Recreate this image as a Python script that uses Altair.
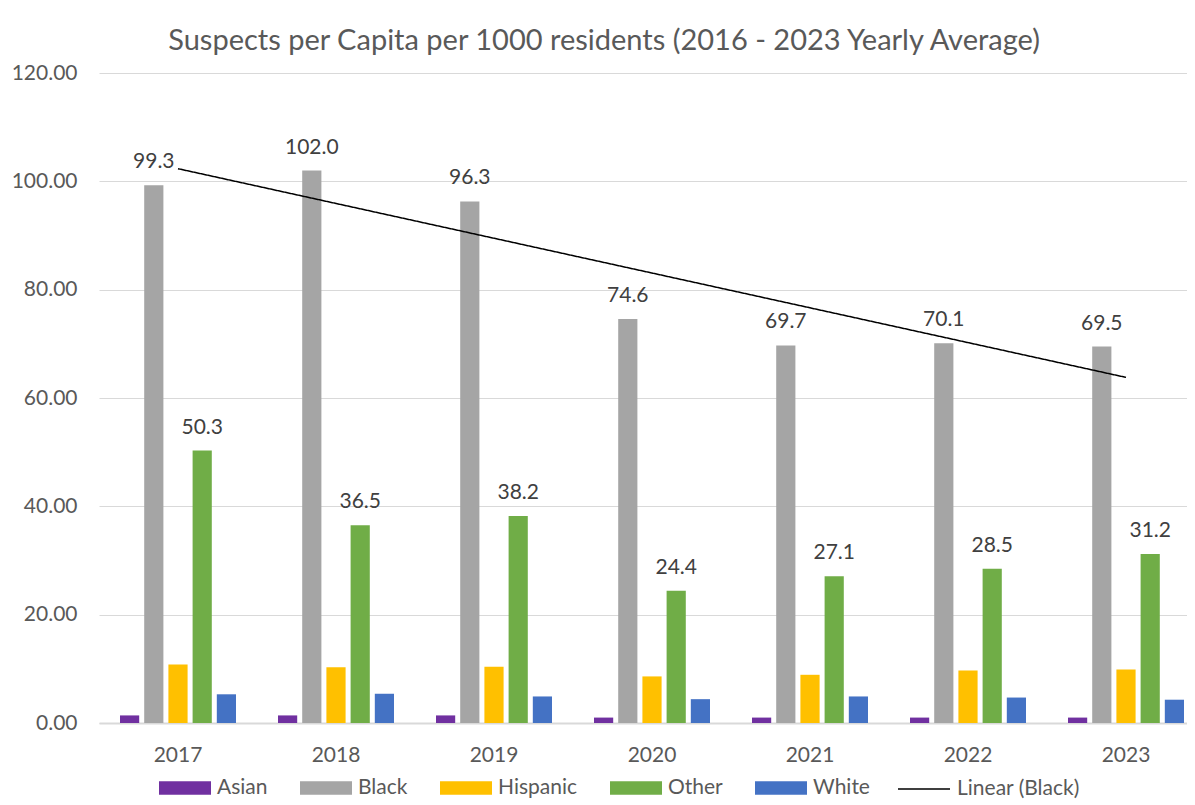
import altair as alt
import pandas as pd
import numpy as np

years = ["2017", "2018", "2019", "2020", "2021", "2022", "2023"]
groups = ["Asian", "Black", "Hispanic", "Other", "White"]
asian = [1.4, 1.4, 1.4, 1.0, 1.0, 1.0, 1.0]
black = [99.3, 102.0, 96.3, 74.6, 69.7, 70.1, 69.5]
hispanic = [10.8, 10.3, 10.4, 8.6, 8.9, 9.7, 9.9]
other = [50.3, 36.5, 38.2, 24.4, 27.1, 28.5, 31.2]
white = [5.3, 5.4, 4.9, 4.4, 4.9, 4.7, 4.3]
colors = ["#7030A0", "#A5A5A5", "#FFC000", "#70AD47", "#4472C4"]
labelled = ["Black", "Other"]
trend_name = "Linear (Black)"
y_ticks = [0, 20, 40, 60, 80, 100, 120]
title_text = "Suspects per Capita per 1000 residents (2016 - 2023 Yearly Average)"

series = {"Asian": asian, "Black": black, "Hispanic": hispanic, "Other": other, "White": white}
rows = []
for g in groups:
    for yr, v in zip(years, series[g]):
        rows.append({"year": yr, "group": g, "value": v})
df = pd.DataFrame(rows)

# Linear trendline of the Black series (like Excel's linear trendline)
xs = np.arange(1, len(years) + 1)
coef = np.polyfit(xs, black, 1)
trend = np.polyval(coef, xs)
df_trend = pd.DataFrame({"year": years, "value": trend, "series": trend_name})

FONT = "Lato"
GRAY = "#595959"

x_scale = alt.Scale(domain=years, range=[0, 1106], paddingInner=0, paddingOuter=0)
xo_scale = alt.Scale(domain=groups, paddingInner=0.207, paddingOuter=0.868)
y_scale = alt.Scale(domain=[0, 120])

x_enc = alt.X("year:N", scale=x_scale, title=None,
              axis=alt.Axis(labelAngle=0, ticks=False, domain=True, domainColor="#D9D9D9",
                            domainWidth=2, labelPadding=21, labelFontSize=21,
                            labelColor=GRAY, labelFont=FONT, grid=False))
y_enc = alt.Y("value:Q", scale=y_scale, title=None,
              axis=alt.Axis(values=y_ticks, format=".2f", ticks=False, domain=False,
                            grid=True, gridColor="#D9D9D9", gridWidth=1.2,
                            labelPadding=22, labelFontSize=21, labelColor=GRAY,
                            labelFont=FONT))

bars = alt.Chart(df).mark_bar().encode(
    x=x_enc,
    xOffset=alt.XOffset("group:N", scale=xo_scale),
    y=y_enc,
    color=alt.Color("group:N", scale=alt.Scale(domain=groups, range=colors), title=None,
                    legend=alt.Legend(orient="none", legendX=60, legendY=689,
                                      direction="horizontal", columns=5,
                                      symbolType="M-1,-0.26L1,-0.26L1,0.26L-1,0.26Z",
                                      symbolSize=2704, symbolStrokeWidth=0,
                                      symbolOpacity=1, labelFontSize=21,
                                      labelColor=GRAY, labelFont=FONT, labelOffset=6,
                                      columnPadding=32, padding=0)),
)

labels = alt.Chart(df).transform_filter(
    alt.FieldOneOfPredicate(field="group", oneOf=labelled)
).mark_text(dy=-17, baseline="alphabetic", fontSize=21, color="#404040", font=FONT).encode(
    x=alt.X("year:N", scale=x_scale),
    xOffset=alt.XOffset("group:N", scale=xo_scale),
    y=alt.Y("value:Q", scale=y_scale),
    text=alt.Text("value:Q", format=".1f"),
)

line = alt.Chart(df_trend).mark_line(color="black", strokeWidth=1.5).encode(
    x=alt.X("year:N", scale=x_scale),
    y=alt.Y("value:Q", scale=y_scale),
    strokeDash=alt.StrokeDash("series:N", scale=alt.Scale(domain=[trend_name], range=[[1, 0]]),
                              title=None,
                              legend=alt.Legend(orient="none", legendX=798, legendY=689,
                                                symbolType="stroke", symbolSize=2704,
                                                symbolStrokeWidth=1.5,
                                                symbolStrokeColor="black",
                                                labelFontSize=21, labelColor=GRAY,
                                                labelFont=FONT, labelOffset=6, padding=0,
                                                labelLimit=300)),
)

chart = alt.layer(bars, labels, line).properties(
    width=1088,
    height=650,
    autosize=alt.AutoSizeParams(type="none"),
    padding={"left": 91, "top": 65, "right": 0, "bottom": 80},
    title=alt.TitleParams(text=title_text, fontSize=29, font=FONT, color=GRAY,
                          fontWeight="normal", anchor="middle", frame="bounds",
                          baseline="alphabetic", offset=11, dy=28, dx=-4),
).configure_view(stroke=None)

chart.save("out.html", embed_options={"renderer": "svg", "actions": False})
